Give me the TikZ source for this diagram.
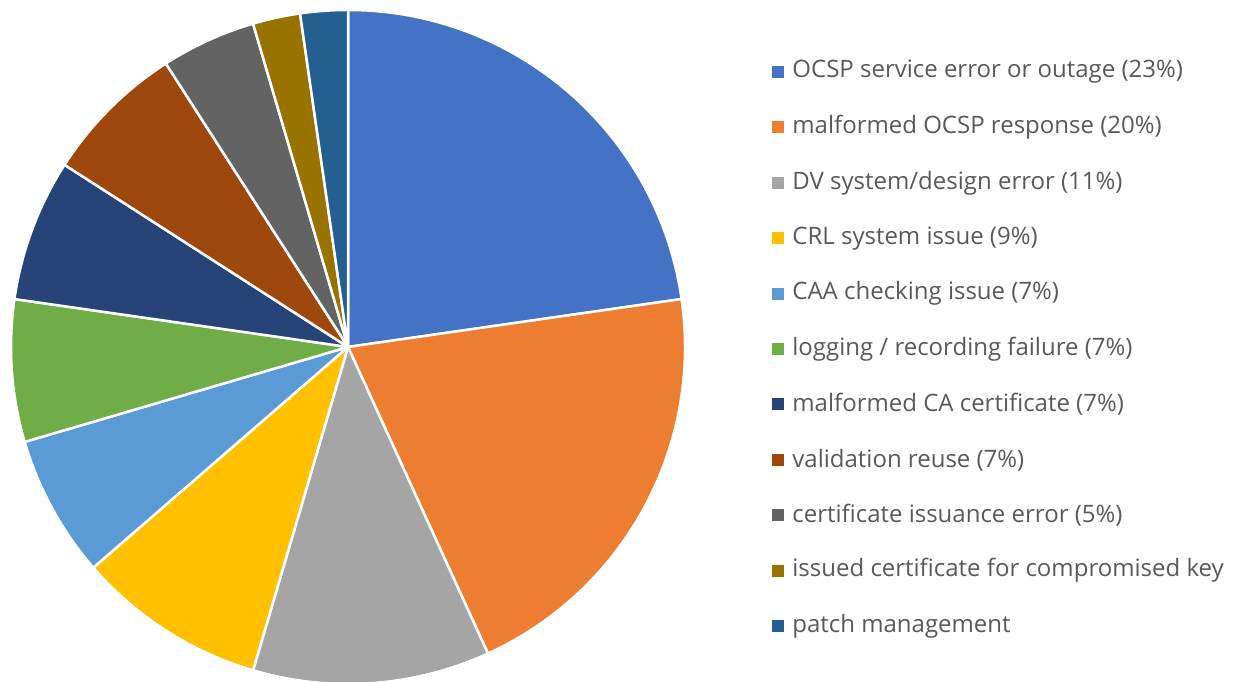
\documentclass[tikz,border=0pt]{standalone}
\usepackage{fontspec}
\setmainfont{Open Sans}
\usepackage{tikz}
\usetikzlibrary{positioning}

\definecolor{cA}{HTML}{4472C4}
\definecolor{cB}{HTML}{ED7D31}
\definecolor{cC}{HTML}{A5A5A5}
\definecolor{cD}{HTML}{FFC000}
\definecolor{cE}{HTML}{5B9BD5}
\definecolor{cF}{HTML}{70AD47}
\definecolor{cG}{HTML}{264478}
\definecolor{cH}{HTML}{9E480E}
\definecolor{cI}{HTML}{636363}
\definecolor{cJ}{HTML}{997300}
\definecolor{cK}{HTML}{255E91}
\definecolor{legtext}{HTML}{595959}

\begin{document}
\begin{tikzpicture}[x=1pt, y=1pt,
    legbox/.style={minimum size=12pt, inner sep=0pt},
    legtxt/.style={anchor=west, inner sep=0pt, text=legtext, font=\fontsize{24}{28}\selectfont}]
    \useasboundingbox (0,0) rectangle (1236,682);

    % 饼图圆心
    \coordinate (o) at (348,335);

    % 扇形 (从顶部顺时针)
    \foreach \a/\b/\col in {0/10/cA, 10/19/cB, 19/24/cC, 24/28/cD, 28/31/cE,
                            31/34/cF, 34/37/cG, 37/40/cH, 40/42/cI, 42/43/cJ, 43/44/cK} {
        \filldraw[fill=\col, draw=white, line width=2.5pt, line join=round]
            (o) -- ++(90-\a*360/44:337)
            arc[start angle=90-\a*360/44, end angle=90-\b*360/44, radius=337] -- cycle;
    }

    % 图例
    \foreach \i/\col/\txt in {0/cA/{OCSP service error or outage (23\%)},
                              1/cB/{malformed OCSP response (20\%)},
                              2/cC/{DV system/design error (11\%)},
                              3/cD/{CRL system issue (9\%)},
                              4/cE/{CAA checking issue (7\%)},
                              5/cF/{logging / recording failure (7\%)},
                              6/cG/{malformed CA certificate (7\%)},
                              7/cH/{validation reuse (7\%)},
                              8/cI/{certificate issuance error (5\%)},
                              9/cJ/{issued certificate for compromised key},
                              10/cK/{patch management}} {
        \node[legbox, fill=\col] (box\i) at (778,610-55.4*\i) {};
        \node[legtxt, right=8pt of box\i] (leg\i) {\txt};
    }
\end{tikzpicture}
\end{document}
